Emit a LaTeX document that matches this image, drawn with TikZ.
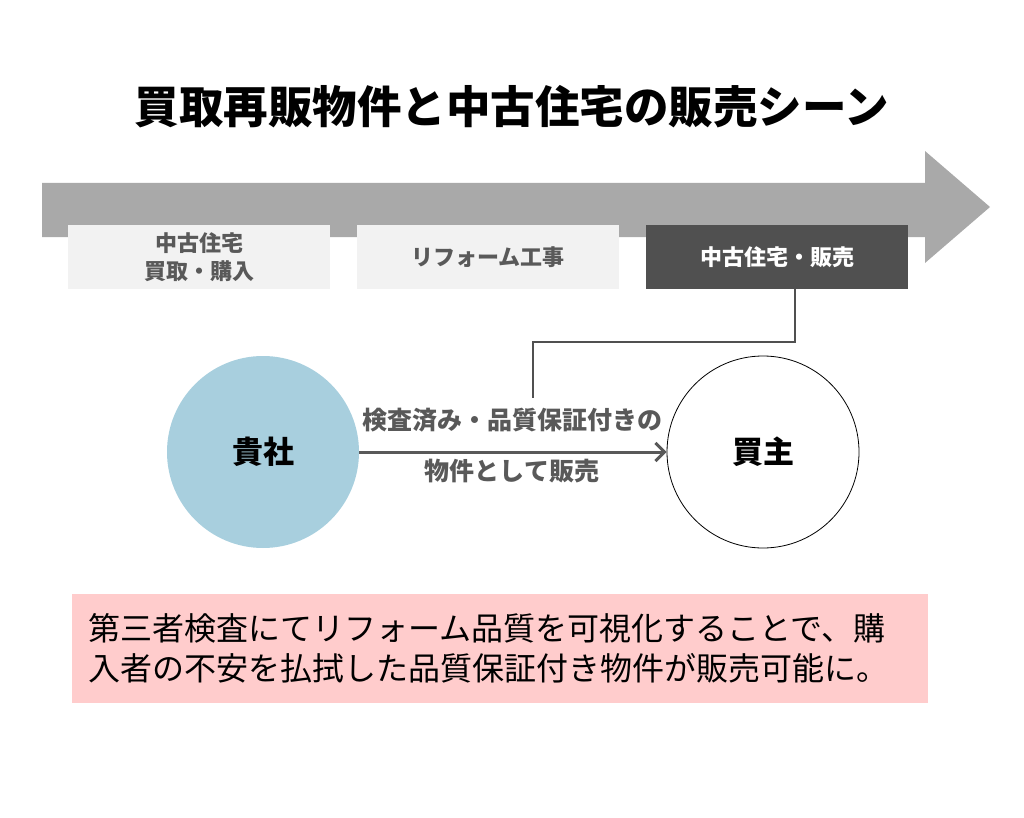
\documentclass[tikz,border=0pt]{standalone}
\usepackage{fontspec}
\newfontfamily\jp{Noto Sans CJK JP}
\usetikzlibrary{arrows.meta,positioning}
\definecolor{flowgray}{HTML}{A9A9A9}
\definecolor{boxlight}{HTML}{F2F2F2}
\definecolor{boxdark}{HTML}{505050}
\definecolor{textgray}{HTML}{595959}
\definecolor{circleblue}{HTML}{A8CFDE}
\definecolor{notepink}{HTML}{FFCCCC}

\begin{document}
\begin{tikzpicture}[x=1pt,y=-1pt,font=\jp,
    stage/.style={fill=boxlight,text=textgray,minimum width=262pt,minimum height=64pt,
                  align=center,font=\jp\fontsize{22}{28}\selectfont\bfseries,inner sep=0pt},
    party/.style={circle,minimum size=192pt,font=\jp\fontsize{31}{34}\selectfont\bfseries},
    flow label/.style={text=textgray,font=\jp\fontsize{25}{28}\selectfont\bfseries}]

    \useasboundingbox (0,0) rectangle (1024,818);

    % Title
    \node[font=\jp\fontsize{44.5}{48}\selectfont\bfseries] (title) at (512,107)
        {買取再販物件と中古住宅の販売シーン};

    % Big timeline arrow
    \fill[flowgray] (42,183) -- (925,183) -- (925,151) -- (990,207)
        -- (925,263) -- (925,237) -- (42,237) -- cycle;

    % Stages
    \node[stage] (buy) at (199,257) {中古住宅\\買取・購入};
    \node[stage] (reform) at (488,257) {リフォーム工事};
    \node[stage,fill=boxdark,text=white] (sale) at (777,257) {中古住宅・販売};

    % Parties
    \node[party,fill=circleblue] (company) at (263,452) {貴社};
    \node[party,draw=black,line width=0.8pt,fill=white] (buyer) at (763,452) {買主};

    % Sale arrow and labels
    \draw[textgray,line width=3pt,-{Straight Barb[length=9pt,width=18pt,line width=3pt]}]
        (company) -- (buyer);
    \node[flow label] (upper) at (512,420) {検査済み・品質保証付きの};
    \node[flow label] (lower) at (512,471) {物件として販売};

    % Link from stage to label
    \coordinate (bend) at (533,342);
    \coordinate (drop) at (533,398);
    \draw[boxdark,line width=2pt] ([xshift=18pt]sale.south) |- (bend) -- (drop);

    % Note
    \node[fill=notepink,minimum width=856pt,minimum height=109pt,inner sep=0pt] (note) at (500,648.5) {};
    \node[anchor=west,align=left,inner sep=0pt,
          font=\jp\fontsize{32}{40}\selectfont] (notetext) at (88,648)
        {第三者検査にてリフォーム品質を可視化することで、購\\入者の不安を払拭した品質保証付き物件が販売可能に。};

\end{tikzpicture}
\end{document}
